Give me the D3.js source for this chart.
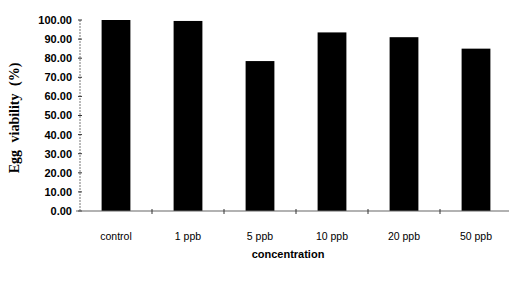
<!DOCTYPE html>
<html>
<head>
<meta charset="utf-8">
<script src="https://cdn.jsdelivr.net/npm/d3@7"></script>
<style>
  body { margin: 0; background: #fff; }
  svg { display: block; }
</style>
</head>
<body>
<div id="chart"></div>
<script>
// data
const categories = ["control", "1 ppb", "5 ppb", "10 ppb", "20 ppb", "50 ppb"];
const viability = [100, 99.5, 78.5, 93.5, 91, 85];
const yTicks = [0, 10, 20, 30, 40, 50, 60, 70, 80, 90, 100];

const width = 509, height = 287;
const margins = { top: 20, bottom: 76, left: 80, right: 0 };

const svg = d3.select("#chart")
  .append("svg")
  .attr("width", width)
  .attr("height", height);

const xScale = d3.scaleBand()
  .domain(categories)
  .range([margins.left, margins.left + 6 * 72])
  .paddingInner(0.6)
  .paddingOuter(0.3);

const yScale = d3.scaleLinear()
  .domain([0, 100])
  .range([height - margins.bottom, margins.top]);

const y0 = yScale(0);

// bars
svg.selectAll("rect.bar")
  .data(categories)
  .join("rect")
  .attr("class", "bar")
  .attr("x", d => xScale(d))
  .attr("width", xScale.bandwidth())
  .attr("y", (d, i) => yScale(viability[i]))
  .attr("height", (d, i) => y0 - yScale(viability[i]))
  .attr("fill", "#000");

// y axis line
svg.append("line")
  .attr("x1", margins.left).attr("x2", margins.left)
  .attr("y1", yScale(100)).attr("y2", y0)
  .attr("stroke", "#777")
  .attr("stroke-width", 1)
  .attr("stroke-dasharray", "2,1");

// y ticks (small crosses)
svg.selectAll("line.ytick")
  .data(yTicks)
  .join("line")
  .attr("class", "ytick")
  .attr("x1", margins.left - 2).attr("x2", margins.left + 2)
  .attr("y1", d => yScale(d)).attr("y2", d => yScale(d))
  .attr("stroke", "#333");

svg.selectAll("text.ylab")
  .data(yTicks)
  .join("text")
  .attr("class", "ylab")
  .attr("x", 72)
  .attr("y", d => yScale(d))
  .attr("dy", "0.36em")
  .attr("text-anchor", "end")
  .style("font-family", "Liberation Sans, Arial, sans-serif")
  .style("font-size", "11px")
  .style("font-weight", "bold")
  .text(d => d3.format(".2f")(d));

// x axis line
svg.append("line")
  .attr("x1", margins.left - 4).attr("x2", width)
  .attr("y1", y0).attr("y2", y0)
  .attr("stroke", "#666")
  .attr("stroke-width", 1.2);

// x ticks between categories
const step = xScale.step();
svg.selectAll("line.xtick")
  .data(categories.slice(1))
  .join("line")
  .attr("class", "xtick")
  .attr("x1", d => xScale(d) - step * 0.3).attr("x2", d => xScale(d) - step * 0.3)
  .attr("y1", y0 - 2).attr("y2", y0 + 3)
  .attr("stroke", "#333");

svg.selectAll("text.xlab")
  .data(categories)
  .join("text")
  .attr("class", "xlab")
  .attr("x", d => xScale(d) + xScale.bandwidth() / 2)
  .attr("y", 240)
  .attr("text-anchor", "middle")
  .style("font-family", "Liberation Sans, Arial, sans-serif")
  .style("font-size", "10.5px")
  .text(d => d);

// axis titles
svg.append("text")
  .attr("x", 288)
  .attr("y", 258)
  .attr("text-anchor", "middle")
  .style("font-family", "Liberation Sans, Arial, sans-serif")
  .style("font-size", "11px")
  .style("font-weight", "bold")
  .text("concentration");

svg.append("text")
  .attr("transform", "translate(19,118) rotate(-90)")
  .attr("text-anchor", "middle")
  .style("font-family", "Liberation Serif, Times New Roman, serif")
  .style("font-size", "14px")
  .style("font-weight", "bold")
  .style("word-spacing", "4px")
  .text("Egg viability (%)");
</script>
</body>
</html>
